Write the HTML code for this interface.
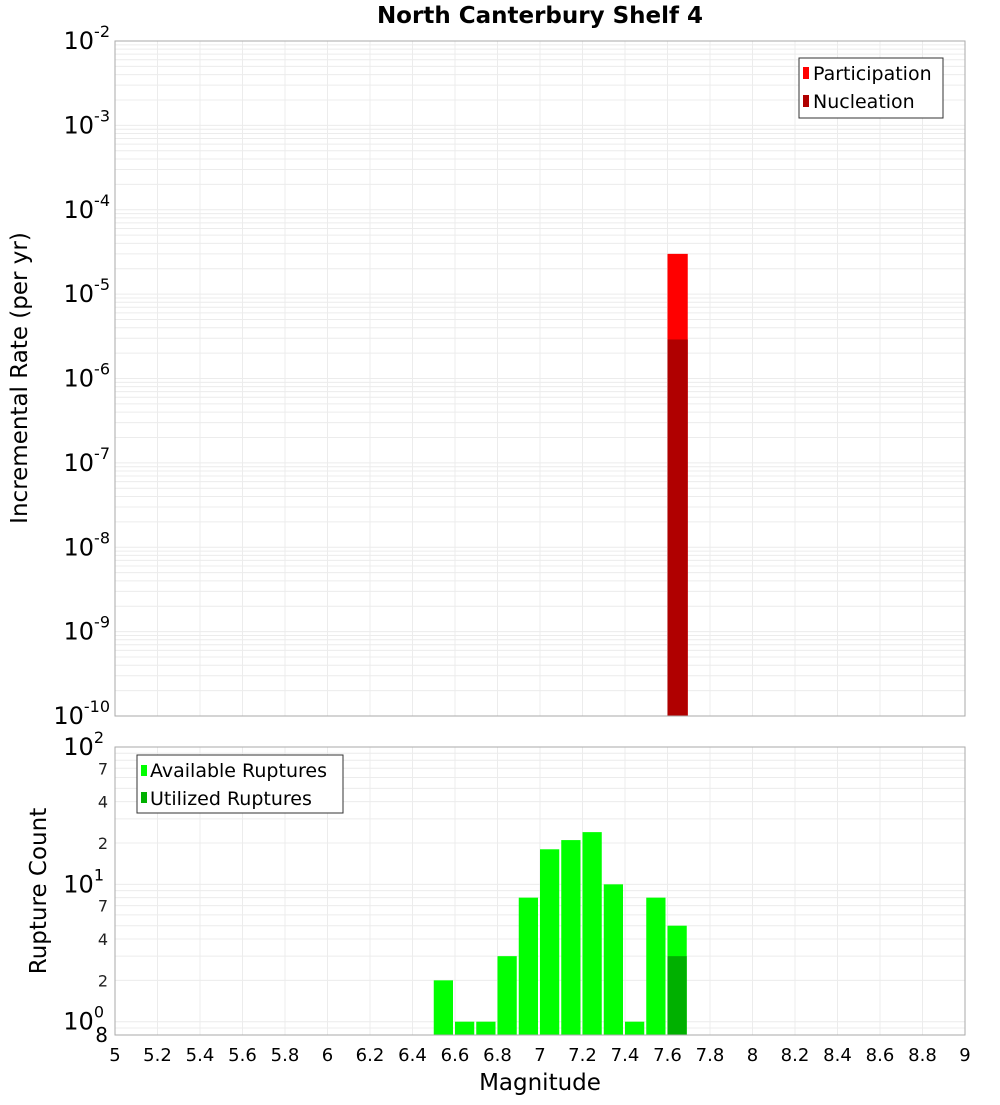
<!DOCTYPE html>
<html><head><meta charset="utf-8"><style>
body{margin:0;background:#fff;}
svg text{font-family:"DejaVu Sans","Liberation Sans",sans-serif;}
</style></head><body>
<svg id="c" width="1000" height="1100" xmlns="http://www.w3.org/2000/svg">
<text x="540" y="23" text-anchor="middle" font-size="23" font-weight="bold">North Canterbury Shelf 4</text>
<g id="top"></g>
<g id="bot"></g>
<text transform="translate(27,378) rotate(-90)" text-anchor="middle" font-size="23">Incremental Rate (per yr)</text>
<text transform="translate(46,891) rotate(-90)" text-anchor="middle" font-size="23">Rupture Count</text>
<text x="540" y="1090" text-anchor="middle" font-size="23">Magnitude</text>
</svg>
<script>
const xTicks=["5","5.2","5.4","5.6","5.8","6","6.2","6.4","6.6","6.8","7","7.2","7.4","7.6","7.8","8","8.2","8.4","8.6","8.8","9"];
const rateMags=[7.65];
const participation=[3.0e-5];
const nucleation=[2.9e-6];
const countMags=[6.55,6.65,6.75,6.85,6.95,7.05,7.15,7.25,7.35,7.45,7.55,7.65];
const available=[2,1,1,3,8,18,21,24,10,1,8,5];
const utilizedMags=[7.65];
const utilized=[3];

const NS="http://www.w3.org/2000/svg";
const L=115,R=965;
const x=m=>L+(m-5)/4*(R-L);
const tT=41,tB=716;
const yTop=v=>tT+(-2-Math.log10(v))/8*(tB-tT);
const bT=747,bB=1035,bMin=0.8,bMax=100;
const yBot=v=>bT+(Math.log10(bMax)-Math.log10(v))/(Math.log10(bMax)-Math.log10(bMin))*(bB-bT);
function el(p,t,a){const e=document.createElementNS(NS,t);for(const k in a)e.setAttribute(k,a[k]);p.appendChild(e);return e;}
const gTop=document.getElementById('top'),gBot=document.getElementById('bot');

for(let d=-10;d<-2;d++)for(let k=1;k<10;k++){const y=yTop(k*Math.pow(10,d));const g=el(gTop,'line',{x1:L,x2:R,y1:y,y2:y,stroke:'#ececec','stroke-width':1});

}
for(let i=0;i<xTicks.length;i++){const xx=x(+xTicks[i]);for(const [p,a,b] of [[gTop,tT,tB],[gBot,bT,bB]]){const g=el(p,'line',{x1:xx,x2:xx,y1:a,y2:b,stroke:'#ececec'});

}}
const w=x(5.1)-x(5);
rateMags.forEach((m,i)=>{
 const r=el(gTop,'rect',{x:x(m)-w/2,y:yTop(participation[i]),width:w-1,height:tB-yTop(participation[i]),fill:'#ff0000'});
 
 
 const n=el(gTop,'rect',{x:x(m)-w/2,y:yTop(nucleation[i]),width:w-1,height:tB-yTop(nucleation[i]),fill:'#b00000'});
 
 
});
el(gTop,'rect',{x:L,y:tT,width:R-L,height:tB-tT,fill:'none',stroke:'#aaa'});
for(let d=-10;d<=-2;d++){const y=yTop(Math.pow(10,d));const t=el(gTop,'text',{x:110,y:y+8,'text-anchor':'end','font-size':24});


t.innerHTML='10<tspan dy="-12" font-size="16">'+d+'</tspan>';}
const lg=el(gTop,'g',{});


el(lg,'rect',{x:799,y:58,width:144,height:60,fill:'#fff',stroke:'#333'});
el(lg,'rect',{x:803,y:67,width:6,height:12,fill:'#ff0000'});
el(lg,'rect',{x:803,y:95,width:6,height:12,fill:'#b00000'});
el(lg,'text',{x:813,y:80,'font-size':19}).textContent='Participation';
el(lg,'text',{x:813,y:108,'font-size':19}).textContent='Nucleation';

for(let d=-1;d<2;d++)for(let k=1;k<10;k++){const v=k*Math.pow(10,d);if(v<bMin)continue;const y=yBot(v);const g=el(gBot,'line',{x1:L,x2:R,y1:y,y2:y,stroke:'#ececec'});

}
countMags.forEach((m,i)=>{const r=el(gBot,'rect',{x:x(m)-w/2,y:yBot(available[i]),width:w-2,height:bB-yBot(available[i]),fill:'#00ff00'});

});
utilizedMags.forEach((m,i)=>{const r=el(gBot,'rect',{x:x(m)-w/2,y:yBot(utilized[i]),width:w-2,height:bB-yBot(utilized[i]),fill:'#00b000'});

});
el(gBot,'rect',{x:L,y:bT,width:R-L,height:bB-bT,fill:'none',stroke:'#aaa'});
[[100,'2'],[1,'0'],[10,'1']].forEach(([v,e])=>{const t=el(gBot,'text',{x:104,y:yBot(v)+8,'text-anchor':'end','font-size':24});


t.innerHTML='10<tspan dy="-12" font-size="16">'+e+'</tspan>';});
[[70,'7'],[40,'4'],[20,'2'],[7,'7'],[4,'4'],[2,'2']].forEach(([v,s])=>{const t=el(gBot,'text',{x:108,y:yBot(v)+6,'text-anchor':'end','font-size':16,fill:'#222'});


t.textContent=s;});
{const t=el(gBot,'text',{x:108,y:1042,'text-anchor':'end','font-size':20});


t.textContent='8';}
xTicks.forEach(s=>{const t=el(gBot,'text',{x:x(+s),y:1061,'text-anchor':'middle','font-size':18});


t.textContent=s;});
const lg2=el(gBot,'g',{});


el(lg2,'rect',{x:137,y:755,width:206,height:58,fill:'#fff',stroke:'#333'});
el(lg2,'rect',{x:141,y:765,width:6,height:11,fill:'#00ff00'});
el(lg2,'rect',{x:141,y:792,width:6,height:11,fill:'#00b000'});
el(lg2,'text',{x:150,y:777,'font-size':19}).textContent='Available Ruptures';
el(lg2,'text',{x:150,y:805,'font-size':19}).textContent='Utilized Ruptures';
</script>
</body></html>
